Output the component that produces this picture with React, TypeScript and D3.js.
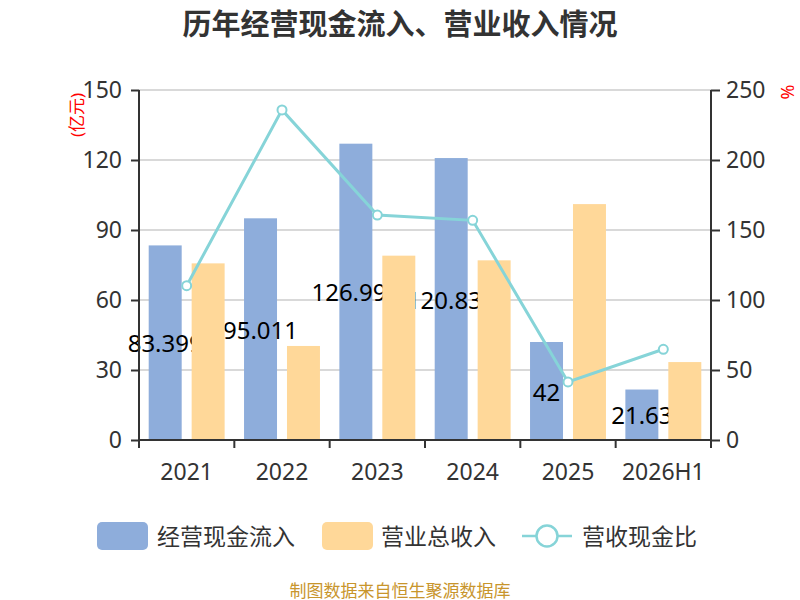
import { FC, useEffect, useRef } from 'react';
import * as d3 from 'd3';

const categories = ['2021', '2022', '2023', '2024', '2025', '2026H1'];
const cashInflow = [83.399, 95.011, 126.993, 120.833, 42, 21.63];
const revenue = [75.7, 40.3, 79.0, 77.0, 101.1, 33.4];
const cashRatio = [110.2, 235.8, 160.7, 156.9, 41.5, 64.8];
const leftTicks = [0, 30, 60, 90, 120, 150];
const rightTicks = [0, 50, 100, 150, 200, 250];

const FONT = '"Noto Sans", "Noto Sans CJK SC", sans-serif';
const BLUE = '#8eaddb';
const ORANGE = '#ffd899';
const TEAL = '#86d4d8';

const App: FC = () => {
  const chartRef = useRef<SVGSVGElement>(null);

  useEffect(() => {
    const width = 800;
    const height = 600;
    const margin = { top: 90, right: 89, bottom: 160, left: 139 };
    const innerW = width - margin.left - margin.right;
    const innerH = height - margin.top - margin.bottom;

    const svg = d3.select(chartRef.current);
    svg.selectAll('*').remove();

    // Title
    svg
      .append('text')
      .attr('x', width / 2)
      .attr('y', 23)
      .attr('text-anchor', 'middle')
      .attr('dominant-baseline', 'central')
      .attr('font-family', FONT)
      .attr('font-size', 29)
      .attr('font-weight', 'bold')
      .attr('fill', '#333')
      .text('历年经营现金流入、营业收入情况');

    const g = svg.append('g').attr('transform', `translate(${margin.left},${margin.top})`);

    // Scales
    const x = d3.scaleBand().domain(categories).range([0, innerW]);
    const inner = d3.scaleBand().domain(['cash', 'rev']).range([9.7, x.bandwidth() - 9.7]).paddingInner(0.232);
    const yLeft = d3.scaleLinear().domain([0, 150]).range([innerH, 0]);
    const yRight = d3.scaleLinear().domain([0, 250]).range([innerH, 0]);

    // Grid lines
    g.append('g')
      .selectAll('line')
      .data(leftTicks)
      .enter()
      .append('line')
      .attr('x1', 0)
      .attr('x2', innerW)
      .attr('y1', (d) => yLeft(d))
      .attr('y2', (d) => yLeft(d))
      .attr('stroke', '#cccccc')
      .attr('stroke-width', 1.5);

    // Cash inflow bars
    g.append('g')
      .selectAll('rect')
      .data(cashInflow)
      .enter()
      .append('rect')
      .attr('x', (_, i) => x(categories[i])! + inner('cash')!)
      .attr('y', (d) => yLeft(d))
      .attr('width', inner.bandwidth())
      .attr('height', (d) => innerH - yLeft(d))
      .attr('fill', BLUE);

    // Labels sit under the revenue bars
    g.append('g')
      .selectAll('text')
      .data(cashInflow)
      .enter()
      .append('text')
      .attr('x', (_, i) => x(categories[i])! + inner('cash')! + inner.bandwidth() / 2)
      .attr('y', (d) => (yLeft(d) + innerH) / 2)
      .attr('text-anchor', 'middle')
      .attr('dominant-baseline', 'central')
      .attr('font-family', FONT)
      .attr('font-size', 24)
      .attr('fill', '#000')
      .text((d) => String(d));

    // Revenue bars
    g.append('g')
      .selectAll('rect')
      .data(revenue)
      .enter()
      .append('rect')
      .attr('x', (_, i) => x(categories[i])! + inner('rev')!)
      .attr('y', (d) => yLeft(d))
      .attr('width', inner.bandwidth())
      .attr('height', (d) => innerH - yLeft(d))
      .attr('fill', ORANGE);

    // Axes
    const axisL = g.append('g').call(d3.axisLeft(yLeft).tickValues(leftTicks).tickSize(8).tickPadding(9));
    const axisR = g
      .append('g')
      .attr('transform', `translate(${innerW},0)`)
      .call(d3.axisRight(yRight).tickValues(rightTicks).tickSize(9).tickPadding(6));
    const axisB = g
      .append('g')
      .attr('transform', `translate(0,${innerH})`)
      .call(d3.axisBottom(x).tickSize(0).tickPadding(24));

    [axisL, axisR, axisB].forEach((a) => {
      a.select('.domain').attr('stroke', '#333').attr('stroke-width', 2);
      a.selectAll('.tick line').attr('stroke', '#333').attr('stroke-width', 2);
      a.selectAll('.tick text')
        .attr('font-family', FONT)
        .attr('font-size', 23)
        .attr('fill', '#333');
    });
    axisL.select('.domain').attr('d', `M0,${innerH}V0`);
    axisR.select('.domain').attr('d', `M0,${innerH}V0`);
    axisB.select('.domain').attr('d', `M0,0H${innerW}`);

    // Category boundary ticks
    axisB
      .append('g')
      .selectAll('line')
      .data(categories.concat(['end']))
      .enter()
      .append('line')
      .attr('x1', (_, i) => i * x.bandwidth())
      .attr('x2', (_, i) => i * x.bandwidth())
      .attr('y1', 0)
      .attr('y2', 8)
      .attr('stroke', '#333')
      .attr('stroke-width', 2);

    // Ratio line
    const line = d3
      .line<number>()
      .x((_, i) => x(categories[i])! + x.bandwidth() / 2)
      .y((d) => yRight(d));

    g.append('path')
      .datum(cashRatio)
      .attr('d', line)
      .attr('fill', 'none')
      .attr('stroke', TEAL)
      .attr('stroke-width', 3);

    g.append('g')
      .selectAll('circle')
      .data(cashRatio)
      .enter()
      .append('circle')
      .attr('cx', (_, i) => x(categories[i])! + x.bandwidth() / 2)
      .attr('cy', (d) => yRight(d))
      .attr('r', 4.5)
      .attr('fill', '#fff')
      .attr('stroke', TEAL)
      .attr('stroke-width', 2);

    // Unit labels
    svg
      .append('text')
      .attr('transform', 'translate(76,115) rotate(-90)')
      .attr('text-anchor', 'middle')
      .attr('dominant-baseline', 'central')
      .attr('font-family', FONT)
      .attr('font-size', 17)
      .attr('fill', 'red')
      .text('(亿元)');

    svg
      .append('text')
      .attr('transform', 'translate(787,92) rotate(-90)')
      .attr('text-anchor', 'middle')
      .attr('dominant-baseline', 'central')
      .attr('font-family', FONT)
      .attr('font-size', 18)
      .attr('fill', 'red')
      .text('%');

    // Legend
    const legend = svg.append('g').attr('transform', 'translate(0,536)');
    const legendText = (lx: number, t: string) =>
      legend
        .append('text')
        .attr('x', lx)
        .attr('y', 0)
        .attr('dominant-baseline', 'central')
        .attr('font-family', FONT)
        .attr('font-size', 23)
        .attr('fill', '#333')
        .text(t);

    legend.append('rect').attr('x', 97).attr('y', -14).attr('width', 51).attr('height', 28).attr('rx', 5).attr('fill', BLUE);
    legendText(157, '经营现金流入');
    legend.append('rect').attr('x', 322).attr('y', -14).attr('width', 51).attr('height', 28).attr('rx', 5).attr('fill', ORANGE);
    legendText(381, '营业总收入');
    legend.append('line').attr('x1', 522).attr('x2', 572).attr('y1', 0).attr('y2', 0).attr('stroke', TEAL).attr('stroke-width', 2.5);
    legend.append('circle').attr('cx', 547).attr('cy', 0).attr('r', 10.5).attr('fill', '#fff').attr('stroke', TEAL).attr('stroke-width', 2.5);
    legendText(582, '营收现金比');

    // Footer
    svg
      .append('text')
      .attr('x', width / 2)
      .attr('y', 590)
      .attr('text-anchor', 'middle')
      .attr('dominant-baseline', 'central')
      .attr('font-family', FONT)
      .attr('font-size', 17)
      .attr('fill', '#c8952c')
      .text('制图数据来自恒生聚源数据库');
  }, []);

  return (
    <svg
      ref={chartRef}
      width={800}
      height={600}
      style={{ position: 'absolute', left: 0, top: 0, background: '#fff' }}
    />
  );
};

export default App;
